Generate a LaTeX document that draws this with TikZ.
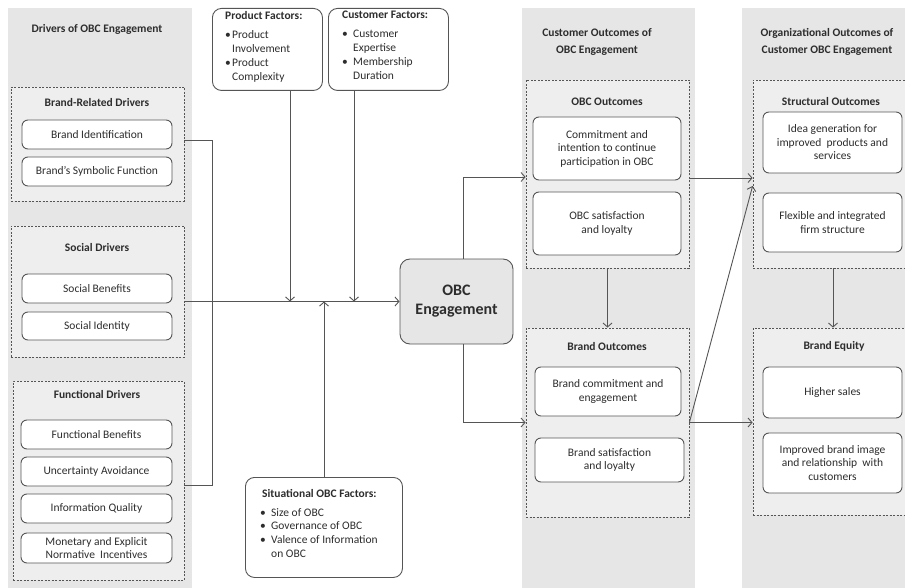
\documentclass[tikz,border=0pt]{standalone}
\usepackage{fontspec}
\setmainfont{Carlito}
\usetikzlibrary{arrows.meta}
\definecolor{colgray}{RGB}{230,230,230}
\definecolor{grpgray}{RGB}{238,238,238}
\definecolor{ln}{RGB}{85,85,85}
\definecolor{txt}{RGB}{45,45,45}
\newcommand\bl{\makebox[7pt][l]{\textbullet}}
\newcommand\ind{\hspace*{7pt}}
\newcommand\blw{\makebox[11pt][l]{\textbullet}}
\newcommand\indw{\hspace*{11pt}}
\begin{document}
\begin{tikzpicture}[x=1pt,y=-1pt,
  every node/.style={font=\fontsize{11.5}{13.5}\selectfont, text=txt, inner sep=0pt, align=center},
  sz/.style 2 args={minimum width=#1pt, minimum height=#2pt},
  col/.style={fill=colgray, draw=none},
  grp/.style={draw=ln, fill=grpgray, dash pattern=on 2pt off 1.5pt, line width=0.8pt},
  item/.style={draw=ln, fill=white, rounded corners=6pt, line width=0.9pt},
  factor/.style={draw=ln, fill=white, rounded corners=9pt, line width=0.9pt, anchor=north west},
  ftext/.style={anchor=north west, align=left, font=\fontsize{11.5}{14}\selectfont},
  ttl/.style={font=\fontsize{11.5}{17}\selectfont\bfseries},
  lbl/.style={font=\fontsize{11.5}{13.5}\selectfont\bfseries},
  con/.style={draw=ln, line width=0.9pt},
  arr/.style={draw=ln, line width=0.9pt, -{Straight Barb[length=4pt,width=9pt]}}]
\useasboundingbox (0,0) rectangle (905,588);

% columns
\node[col, sz={184}{580}] (col1) at (100,298) {};
\node[col, sz={173}{580}] (col2) at (608.5,298) {};
\node[col, sz={163}{580}] (col3) at (823.5,298) {};
\node[ttl] (t1) at (97,29) {Drivers of OBC Engagement};
\node[ttl] (t2) at (597,41.5) {Customer Outcomes of\\OBC Engagement};
\node[ttl] (t3) at (827,41.5) {Organizational Outcomes of\\Customer OBC Engagement};

% left groups
\node[grp, sz={173}{114}] (gBrand) at (97.5,144) {};
\node[lbl] (lBrand) at (97,103) {Brand-Related Drivers};
\node[item, sz={150}{29}] (bi) at (97,134.5) {Brand Identification};
\node[item, sz={150}{29}] (bs) at (97,171.5) {Brand’s Symbolic Function};

\node[grp, sz={173}{131}] (gSocial) at (97.5,291.5) {};
\node[lbl] (lSocial) at (97,248) {Social Drivers};
\node[item, sz={150}{29}] (sb) at (97,288.5) {Social Benefits};
\node[item, sz={150}{28}] (si) at (97,326) {Social Identity};

\node[grp, sz={171}{199}] (gFunc) at (98.5,480.5) {};
\node[lbl] (lFunc) at (97,394) {Functional Drivers};
\node[item, sz={151}{29}] (fb) at (96.5,434.5) {Functional Benefits};
\node[item, sz={151}{29}] (ua) at (96.5,471.5) {Uncertainty Avoidance};
\node[item, sz={151}{29}] (iq) at (96.5,508.5) {Information Quality};
\node[item, sz={151}{30}] (mo) at (96.5,548) {Monetary and Explicit\\Normative\ \ Incentives};

% factors
\node[factor, sz={110}{82}] (pf) at (212,8) {};
\node[ftext] (pft) at (225,11)
  {\textbf{Product Factors:}\\[5pt]\bl Product\\\ind Involvement\\\bl Product\\\ind Complexity};
\node[factor, sz={120}{82}] (cf) at (328,8) {};
\node[ftext] (cft) at (342,11)
  {\textbf{Customer Factors:}\\[5pt]\blw Customer\\\indw Expertise\\\blw Membership\\\indw Duration};
\node[factor, sz={157}{100}] (sf) at (245,477) {};
\node[ftext, font=\fontsize{11.5}{13.8}\selectfont] (sft) at (260,489)
  {\hspace*{2pt}\textbf{Situational OBC Factors:}\\[5pt]\blw Size of OBC\\\blw Governance of OBC\\\blw Valence of Information\\\indw on OBC};

% OBC engagement
\node[draw=ln, fill=colgray, rounded corners=10pt, line width=0.9pt, sz={113}{85},
      font=\fontsize{16}{19}\selectfont\bfseries] (obc) at (456.5,301.5) {OBC\\Engagement};

% middle column
\node[grp, sz={163}{188}] (gOBC) at (607.5,174) {};
\node[lbl] (lOBC) at (607,102) {OBC Outcomes};
\node[item, sz={148}{63}] (cm) at (607,148.5) {Commitment and\\intention to continue\\participation in OBC};
\node[item, sz={148}{63}] (os) at (607,223.5) {OBC satisfaction\\and loyalty};

\node[grp, sz={163}{189}] (gBO) at (607.5,422.5) {};
\node[lbl] (lBO) at (607,347) {Brand Outcomes};
\node[item, sz={146}{49}] (bc) at (608,391.5) {Brand commitment and\\engagement};
\node[item, sz={149}{44}] (bsl) at (609.5,460) {Brand satisfaction\\and loyalty};

% right column
\node[grp, sz={155}{188}] (gSO) at (830.5,174) {};
\node[lbl] (lSO) at (831,102) {Structural Outcomes};
\node[item, sz={139}{61}] (idea) at (832.5,142.5) {Idea generation for\\improved\ \ products and\\services};
\node[item, sz={139}{59}] (flex) at (832.5,222.5) {Flexible and integrated\\firm structure};

\node[grp, sz={155}{187}] (gBE) at (830.5,421.5) {};
\node[lbl] (lBE) at (834,346) {Brand Equity};
\node[item, sz={139}{51}] (hs) at (832.5,392.5) {Higher sales};
\node[item, sz={139}{60}] (imp) at (832.5,463) {Improved brand image\\and relationship\ \ with\\customers};

% connectors
\coordinate (jx) at (212,140);
\draw[con] (gBrand.east |- jx) -- (jx) -- (212,485) -- (gFunc.east |- 212,485);
\draw[arr] (gSocial.east |- obc.west) -- (obc.west);
\draw[arr] (pf.south -| 290,0) -- (290,301.5);
\draw[arr] (cf.south -| 354,0) -- (354,301.5);
\draw[arr] (sf.north -| 324,0) -- (324,301.5);
\draw[arr] ([xshift=6.5pt]obc.north) |- ([yshift=-3pt]gOBC.west);
\draw[arr] ([xshift=6.5pt]obc.south) |- (gBO.west);
\draw[arr] (gOBC.south) -- (gBO.north);
\draw[arr] ([yshift=-4pt]gOBC.east) -- ([yshift=-4pt]gSO.west);
\draw[arr] (gBO.east) -- (gBO.east -| gSO.west);
\draw[arr] (gBO.east) -- ([yshift=-12pt]gSO.west);
\draw[arr] (gSO.south -| 833,0) -- (gBE.north -| 833,0);
\end{tikzpicture}
\end{document}
